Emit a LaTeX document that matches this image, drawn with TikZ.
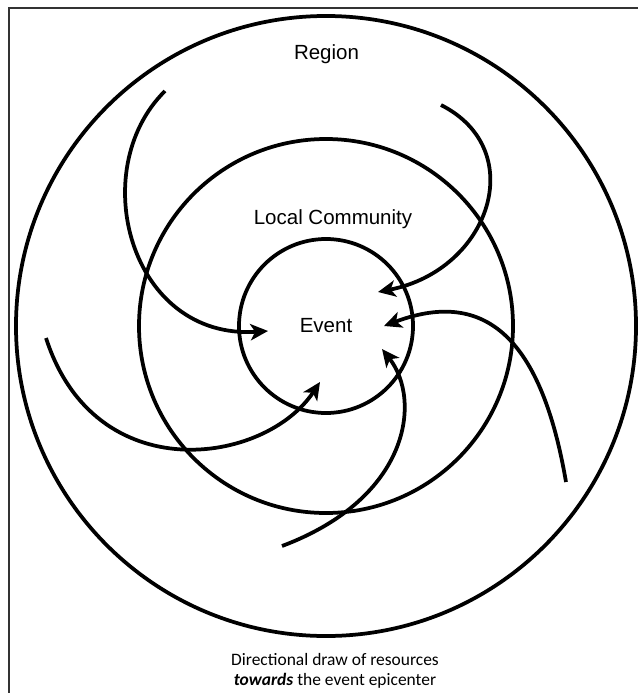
\documentclass[tikz,border=0pt]{standalone}
\usepackage{fontspec}
\setmainfont{Liberation Sans}
\newfontfamily\notefont{Carlito}
\usetikzlibrary{arrows.meta}

\tikzset{
    ring/.style={circle, draw, line width=3.2pt, inner sep=0pt},
    pull/.style={line width=3.2pt, -{Stealth[length=15pt, width=14pt, inset=4pt]}},
    label/.style={font=\fontsize{17.5}{21}\selectfont},
    frame/.style={line width=1.8pt, black!80}
}

\begin{document}
\begin{tikzpicture}[x=0.03cm, y=-0.03cm]
    % Page: 638 x 693 px, y grows downwards
    \useasboundingbox (0,0) rectangle (638,693);
    \draw[frame] (9,693) -- (9,8) -- (638,8);

    % Draw the three rings
    \node[ring, minimum size=18.6cm] (region) at (326,326) {};
    \node[ring, minimum size=11.22cm] (community) at (326,326) {};
    \node[ring, minimum size=5.22cm, label] (event) at (326,326) {Event};

    % Labels
    \node[label] (regionlbl) at (326.5,54) {Region};
    \node[label] (communitylbl) at (333,219) {Local Community};
    \node[font=\notefont\fontsize{14.9}{17}\selectfont, align=center] (note) at (335,671)
        {Directional draw of resources\\\textbf{\textit{towards}} the event epicenter};

    % Start and end points of the resource flows
    \coordinate (fromNW) at (165,91);
    \coordinate (toW) at (268,331);
    \coordinate (fromNE) at (441,105);
    \coordinate (toNE) at (378,292);
    \coordinate (fromW) at (46,338);
    \coordinate (toS) at (320,382);
    \coordinate (fromE) at (566,482);
    \coordinate (toE) at (384,326);
    \coordinate (fromS) at (282,546);
    \coordinate (toSE) at (382,349);

    % Flows towards the epicenter
    \draw[pull] (fromNW) .. controls (85,170) and (130,340) .. (toW);
    \draw[pull] (fromNE) .. controls (530,150) and (490,270) .. (toNE);
    \draw[pull] (fromW) .. controls (95,490) and (265,465) .. (toS);
    \draw[pull] (fromE) .. controls (540,330) and (480,290) .. (toE);
    \draw[pull] (fromS) .. controls (410,498) and (422,400) .. (toSE);
\end{tikzpicture}
\end{document}
